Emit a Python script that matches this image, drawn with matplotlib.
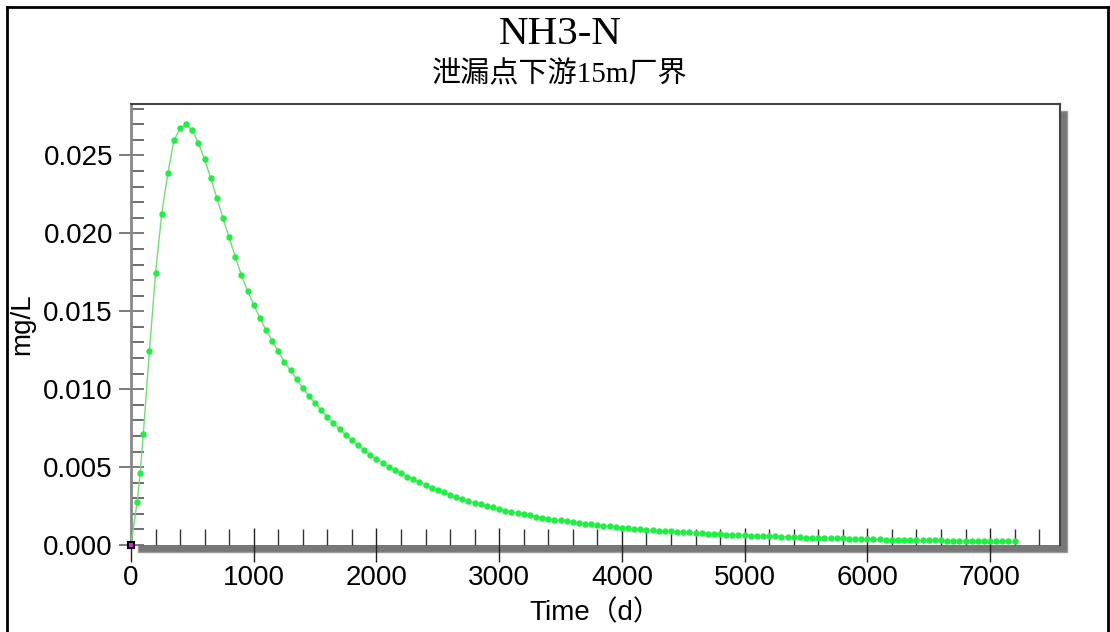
import matplotlib as mpl
mpl.use("Agg")
import matplotlib.pyplot as plt
import matplotlib.lines as mlines
import matplotlib.patches as mpatches
from matplotlib.ticker import MultipleLocator, FormatStrFormatter
import numpy as np

mpl.rcParams["font.family"] = ["Liberation Sans", "Noto Sans CJK SC"]

# time (d) of each simulated point
time_d = [0, 50, 75, 100] + list(range(150, 7250, 50))

# NH3-N concentration (mg/L)
conc = [
    0.00000, 0.00276, 0.00463, 0.00712, 0.01244, 0.01744, 0.02124, 0.02385,
    0.02596, 0.02673, 0.02699, 0.02660, 0.02579, 0.02474, 0.02353, 0.02226,
    0.02096, 0.01974, 0.01848, 0.01731, 0.01630, 0.01543, 0.01457, 0.01378,
    0.01310, 0.01242, 0.01175, 0.01120, 0.01064, 0.01006, 0.00957, 0.00910,
    0.00865, 0.00822, 0.00782, 0.00744, 0.00707, 0.00673, 0.00641, 0.00609,
    0.00579, 0.00553, 0.00528, 0.00502, 0.00481, 0.00460, 0.00438, 0.00423,
    0.00402, 0.00387, 0.00367, 0.00351, 0.00338, 0.00322, 0.00306, 0.00295,
    0.00282, 0.00271, 0.00261, 0.00250, 0.00242, 0.00229, 0.00220, 0.00212,
    0.00205, 0.00197, 0.00190, 0.00181, 0.00176, 0.00169, 0.00162, 0.00158,
    0.00152, 0.00146, 0.00141, 0.00137, 0.00133, 0.00128, 0.00124, 0.00120,
    0.00115, 0.00111, 0.00107, 0.00103, 0.00101, 0.00098, 0.00094, 0.00092,
    0.00090, 0.00088, 0.00085, 0.00083, 0.00081, 0.00078, 0.00076, 0.00073,
    0.00071, 0.00070, 0.00067, 0.00065, 0.00064, 0.00062, 0.00060, 0.00059,
    0.00058, 0.00056, 0.00055, 0.00053, 0.00052, 0.00051, 0.00049, 0.00048,
    0.00047, 0.00046, 0.00045, 0.00044, 0.00043, 0.00042, 0.00041, 0.00040,
    0.00039, 0.00038, 0.00037, 0.00036, 0.00035, 0.00035, 0.00034, 0.00033,
    0.00032, 0.00032, 0.00031, 0.00030, 0.00030, 0.00029, 0.00028, 0.00028,
    0.00027, 0.00027, 0.00026, 0.00026, 0.00025, 0.00025, 0.00024, 0.00024,
    0.00023, 0.00023,
]

title = "NH3-N"
subtitle = "泄漏点下游15m厂界"
xlabel = "Time（d）"
ylabel = "mg/L"

W, H = 1110, 632
fig = plt.figure(figsize=(W / 100, H / 100), dpi=100)

# outer frame of the picture
for xs, ys in [([7, 7], [632, 7]), ([7, 1108], [7, 7]), ([1108, 1108], [7, 632])]:
    fig.add_artist(
        mlines.Line2D(
            [x / W for x in xs], [1 - y / H for y in ys],
            color="black", linewidth=2, transform=fig.transFigure,
        )
    )

# drop shadow behind plot area
shadow = mpatches.Rectangle(
    (138 / W, 1 - 552 / H), (1067 - 138) / W, (552 - 111) / H,
    transform=fig.transFigure, facecolor="#777777", edgecolor="#9a9a9a",
    linewidth=1, zorder=-1,
)
fig.add_artist(shadow)

ax = fig.add_axes([131 / W, 1 - 545 / H, (1060 - 131) / W, (545 - 104) / H])
ax.set_facecolor("white")

ax.plot(time_d, conc, color="#70e070", linewidth=1, zorder=3)
ax.plot(
    time_d[1:], conc[1:], linestyle="none", marker="o", markersize=4.6,
    markerfacecolor="#1cf040", markeredgewidth=0, zorder=4,
)
ax.plot(
    time_d[:1], conc[:1], linestyle="none", marker="s", markersize=5,
    markerfacecolor="#e020e0", markeredgecolor="black", markeredgewidth=1.5,
    zorder=5, clip_on=False,
)

ax.set_xlim(0, 7570)
ax.set_ylim(0, 0.0283)

ax.xaxis.set_major_locator(MultipleLocator(1000))
ax.xaxis.set_minor_locator(MultipleLocator(200))
ax.yaxis.set_major_locator(MultipleLocator(0.005))
ax.yaxis.set_minor_locator(MultipleLocator(0.001))
ax.yaxis.set_major_formatter(FormatStrFormatter("%.3f"))

ax.tick_params(axis="x", which="major", direction="inout", length=25,
               width=1, color="#222222", labelsize=20, pad=2)
ax.tick_params(axis="x", which="minor", direction="in", length=11.5,
               width=1, color="#333333")
ax.tick_params(axis="y", which="major", direction="inout", length=18,
               width=1.2, color="#666666", labelsize=20, pad=4)
ax.tick_params(axis="y", which="minor", direction="in", length=9.4,
               width=1.2, color="#555555")

ax.spines["bottom"].set_visible(False)
ax.spines["top"].set_color("#444444")
ax.spines["top"].set_linewidth(1.5)
ax.spines["right"].set_color("#444444")
ax.spines["right"].set_linewidth(1.5)
ax.spines["left"].set_color("#888888")
ax.spines["left"].set_linewidth(2)

ax.set_xlabel(xlabel, fontsize=20, labelpad=6)
ax.set_ylabel(ylabel, fontsize=20)
ax.yaxis.set_label_coords(-0.1035, 0.5)

fig.text(560 / W, 1 - 34 / H, title, ha="center", va="center",
         fontsize=29.5, family=["Liberation Serif"])
fig.text(560 / W, 1 - 75 / H, subtitle, ha="center", va="center",
         fontsize=21, family=["Liberation Serif", "Noto Sans CJK SC"])

plt.savefig("out.png", dpi=100)
plt.close()
